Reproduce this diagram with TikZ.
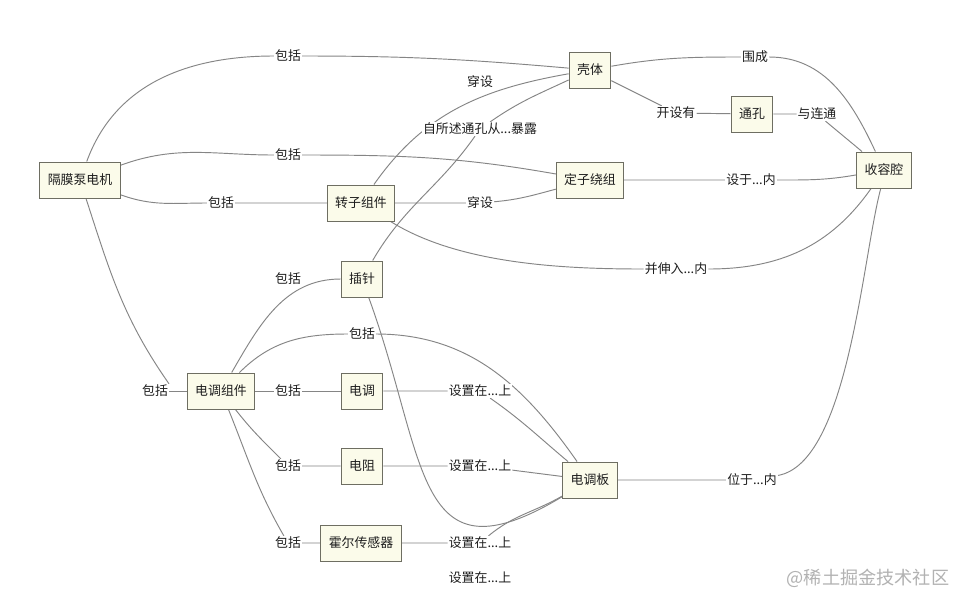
\documentclass[tikz,border=0pt]{standalone}
\usepackage{fontspec}
\setmainfont{Noto Sans CJK SC}
\usetikzlibrary{backgrounds}
\definecolor{boxfill}{HTML}{FBFBEA}
\definecolor{boxline}{HTML}{6E6E62}
\definecolor{linkgray}{HTML}{858585}
\definecolor{txt}{HTML}{1E1E1E}

\begin{document}
\begin{tikzpicture}[x=0.03cm, y=-0.03cm,
  box/.style={rectangle, draw=boxline, fill=boxfill, line width=0.8pt,
    inner xsep=6.8pt, minimum height=1.08cm, font=\fontsize{11}{13}\selectfont, text=txt},
  lbl/.style={fill=white, inner sep=0.8pt, font=\fontsize{11}{13}\selectfont, text=txt},
  link/.style={draw=linkgray, line width=0.8pt},
  wmark/.style={font=\fontsize{15.5}{17}\selectfont, text=black!30},
]
\useasboundingbox (0,0) rectangle (964,605);

%% ── Motor and its parts ──
\node[box] (motor)    at (80,180)  {隔膜泵电机};
\node[box] (shell)    at (590,70)  {壳体};
\node[box] (hole)     at (752,114) {通孔};
\node[box] (cavity)   at (884,170) {收容腔};
\node[box] (stator)   at (590,180) {定子绕组};
\node[box] (rotor)    at (361,203) {转子组件};
%% ── ESC assembly ──
\node[box] (pin)      at (362,279) {插针};
\node[box] (escset)   at (221,391) {电调组件};
\node[box] (esc)      at (362,391) {电调};
\node[box] (resistor) at (362,466) {电阻};
\node[box] (hall)     at (361,543) {霍尔传感器};
\node[box] (board)    at (590,480) {电调板};

%% ── Relation labels ──
\node[lbl] (l1)  at (288,56)  {包括};
\node[lbl] (l2)  at (288,155) {包括};
\node[lbl] (l3)  at (221,203) {包括};
\node[lbl] (l4)  at (155,391) {包括};
\node[lbl] (l5)  at (480,203) {穿设};
\node[lbl] (l6)  at (480,82)  {穿设};
\node[lbl] (l7)  at (480,129) {自所述通孔从...暴露};
\node[lbl] (l8)  at (755,57)  {围成};
\node[lbl] (l9)  at (676,113) {开设有};
\node[lbl] (l10) at (817,114) {与连通};
\node[lbl] (l11) at (751,180) {设于...内};
\node[lbl] (l12) at (676,269) {并伸入...内};
\node[lbl] (l13) at (288,279) {包括};
\node[lbl] (l14) at (362,334) {包括};
\node[lbl] (l15) at (288,391) {包括};
\node[lbl] (l16) at (288,466) {包括};
\node[lbl] (l17) at (288,543) {包括};
\node[lbl] (l18) at (480,391) {设置在...上};
\node[lbl] (l19) at (480,466) {设置在...上};
\node[lbl] (l20) at (480,543) {设置在...上};
\node[lbl] (l21) at (480,578) {设置在...上};
\node[lbl] (l22) at (752,480) {位于...内};

\node[wmark] (wm) at (868,578) {@稀土掘金技术社区};

%% ── Links (under the labels) ──
\begin{scope}[on background layer]
\fill[white] (0,0) rectangle (964,605);
\draw[link] (motor) to[out=70,in=180] (l1) to[out=0,in=175] (shell);
\draw[link] (motor) to[out=20,in=180] (l2) to[out=0,in=170] (stator);
\draw[link] (motor) to[out=-20,in=180] (l3) -- (rotor);
\draw[link] (motor) to[out=-72,in=125] (l4.north east);
\draw[link] (l4) -- (escset);
\draw[link] (rotor) -- (l5) to[out=5,in=195] (stator);
\draw[link] (rotor) to[out=55,in=190] (shell);
\draw[link] (pin) to[out=60,in=235] (l7) to[out=35,in=205] (shell);
\draw[link] (shell) to[out=10,in=180] (l8) to[out=0,in=115] (cavity);
\draw[link] (shell) -- (l9) -- (hole);
\draw[link] (hole) -- (l10) to[out=-40,in=140] (cavity);
\draw[link] (stator) -- (l11) to[out=0,in=190] (cavity);
\draw[link] (rotor) to[out=-32,in=180,looseness=0.8] (l12) to[out=0,in=235] (cavity);
%% ESC assembly fan-out
\draw[link] (escset) to[out=60,in=180] (pin);
\draw[link] (escset) to[out=45,in=180] (l14) to[out=0,in=125] (board);
\draw[link] (escset) -- (l15) -- (esc);
\draw[link] (escset) to[out=-52,in=135] (l16) -- (resistor);
\draw[link] (escset) to[out=-68,in=120] (l17) -- (hall);
%% parts -> board
\draw[link] (esc) -- (l18) to[out=-35,in=140] (board);
\draw[link] (resistor) -- (l19) -- (board);
\draw[link] (hall) -- (l20) to[out=40,in=210] (board);
\draw[link] (pin) to[out=-70,in=211,looseness=1.6] (board);
\draw[link] (board) -- (l22) to[out=10,in=-105,looseness=0.6] (cavity.-100);
\end{scope}
\end{tikzpicture}
\end{document}
